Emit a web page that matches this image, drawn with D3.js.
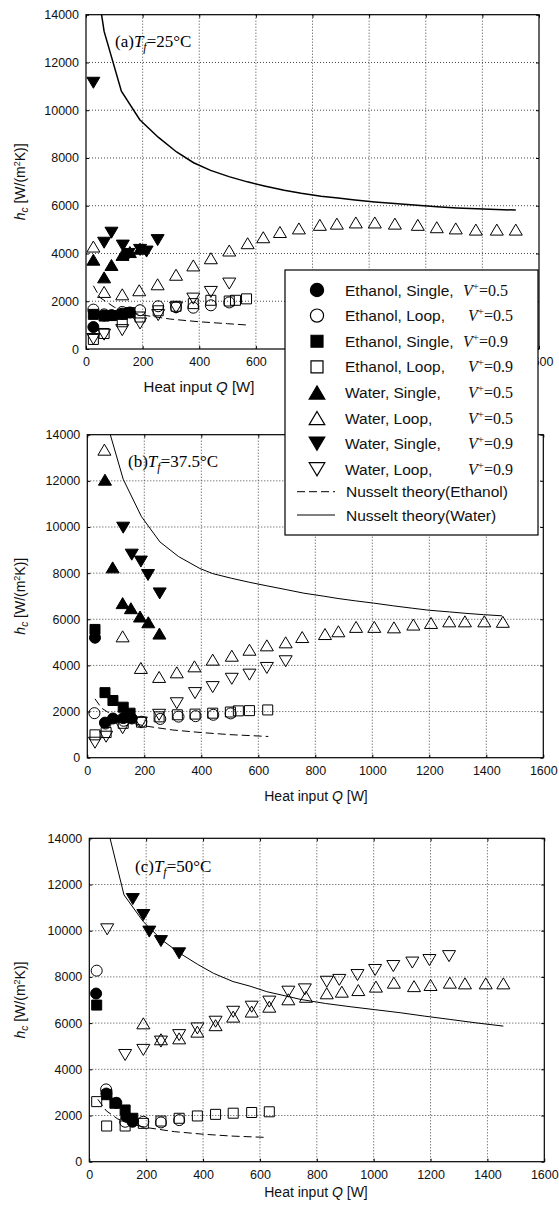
<!DOCTYPE html>
<html>
<head>
<meta charset="utf-8">
<script src="https://cdn.jsdelivr.net/npm/d3@7"></script>
<style>
  body { margin: 0; background: #fff; }
  svg { display: block; font-family: "Liberation Sans", Arial, sans-serif; }
</style>
</head>
<body>
<svg id="fig" width="559" height="1218"></svg>
<script>
/* ------------------------------- data -------------------------------- */
const xTicks = [0, 200, 400, 600, 800, 1000, 1200, 1400, 1600];
const yTicks = [0, 2000, 4000, 6000, 8000, 10000, 12000, 14000];
// panel (a): tick labels hidden behind the legend are not printed
const xTicksHiddenA = [800, 1000, 1200, 1400];

// (a) Tf = 25 C   -- [Q (W), hc (W/m2K)]
const aEthSingle05 = [[26,920],[64,1400],[90,1420],[128,1480],[155,1530]];
const aEthLoop05   = [[26,1650],[64,1450],[128,1550],[191,1625],[255,1790],[318,1750],[379,1730],[441,1830],[506,1950]];
const aEthSingle09 = [[26,1450],[64,1380],[90,1400],[128,1450],[155,1520]];
const aEthLoop09   = [[26,400],[64,650],[128,1140],[191,1340],[255,1600],[318,1790],[379,1900],[441,2040],[506,2010],[528,2040],[567,2100]];
const aWatSingle05 = [[26,3740],[64,3000],[90,3520],[129,3940],[155,4060],[191,4200]];
const aWatLoop05   = [[26,4290],[64,2390],[128,2290],[188,2460],[253,2710],[318,3110],[379,3500],[441,3800],[506,4125],[571,4430],[626,4680],[685,4900],[752,5050],[826,5200],[886,5250],[953,5300],[1020,5300],[1091,5250],[1172,5200],[1239,5100],[1306,5050],[1377,5000],[1451,5000],[1518,5000]];
const aWatSingle09 = [[26,11150],[64,4450],[90,4870],[130,4330],[150,3980],[191,4150],[214,4080],[253,4560]];
const aWatLoop09   = [[26,420],[64,600],[128,790],[191,1070],[255,1420],[318,1730],[379,2110],[441,2390],[506,2740]];
const aNusEthanol  = [[26,2650],[50,2150],[100,1750],[150,1550],[200,1420],[300,1250],[400,1140],[500,1060],[575,1000]];
const aNusWater    = [[26,16260],[64,13300],[125,10800],[190,9600],[255,8870],[320,8250],[380,7800],[440,7480],[505,7220],[570,7000],[630,6830],[700,6650],[760,6520],[830,6400],[890,6320],[950,6240],[1020,6160],[1090,6090],[1170,6020],[1240,5960],[1310,5910],[1380,5870],[1450,5840],[1518,5820]];

// (b) Tf = 37.5 C
const bEthSingle05 = [[27,5200],[62,1520],[90,1700],[126,1720],[156,1700]];
const bEthLoop05   = [[25,1930],[64,1480],[128,1600],[190,1560],[256,1680],[320,1780],[380,1800],[442,1860],[503,1920]];
const bEthSingle09 = [[27,5560],[62,2820],[90,2480],[126,2190],[150,1930]];
const bEthLoop09   = [[27,990],[66,1090],[126,1490],[190,1540],[252,1770],[316,1860],[378,1890],[440,1930],[502,1980],[530,2030],[569,2040],[633,2070]];
const bWatSingle05 = [[62,12050],[89,8250],[124,6700],[153,6480],[185,6120],[214,5870],[253,5380]];
const bWatLoop05   = [[60,13350],[124,5260],[188,3890],[252,3500],[314,3700],[376,3960],[440,4250],[507,4420],[569,4680],[630,4870],[696,5000],[754,5230],[834,5360],[881,5480],[943,5670],[1007,5670],[1076,5650],[1144,5770],[1206,5840],[1270,5910],[1325,5910],[1393,5910],[1458,5890]];
const bWatSingle09 = [[126,9970],[156,8800],[188,8500],[213,7920],[254,7120]];
const bWatLoop09   = [[27,650],[66,910],[124,1280],[188,1520],[252,1860],[314,2360],[378,2800],[440,3060],[507,3420],[569,3600],[630,3890],[696,4180]];
const bNusEthanol  = [[27,2550],[50,2150],[100,1750],[150,1520],[200,1380],[300,1200],[400,1090],[500,1000],[635,920]];
const bNusWater    = [[62,14800],[126,12070],[190,10450],[255,9350],[320,8720],[395,8200],[440,7980],[505,7780],[570,7600],[630,7450],[700,7280],[760,7130],[830,7000],[880,6900],[940,6800],[1005,6700],[1075,6580],[1140,6480],[1200,6390],[1270,6320],[1325,6260],[1390,6200],[1455,6150]];

// (c) Tf = 50 C
const cEthSingle05 = [[24,7280],[60,2950],[95,2550],[130,1950],[152,1730]];
const cEthLoop05   = [[26,8270],[59,3130],[126,1730],[190,1730],[252,1700],[316,1800]];
const cEthSingle09 = [[26,6780],[62,2900],[90,2530],[126,2240],[153,1880]];
const cEthLoop09   = [[26,2600],[61,1545],[126,1545],[190,1660],[252,1760],[316,1880],[380,1980],[444,2050],[506,2100],[571,2130],[633,2160]];
const cWatSingle05 = [];
const cWatLoop05   = [[190,5990],[252,5300],[316,5340],[380,5630],[444,5910],[506,6280],[571,6500],[633,6710],[700,7030],[762,7140],[835,7290],[888,7360],[946,7430],[1008,7580],[1071,7750],[1142,7600],[1200,7650],[1268,7750],[1321,7720],[1394,7720],[1456,7720]];
const cWatSingle09 = [[153,11370],[190,10680],[211,9960],[252,9550],[316,9020]];
const cWatLoop09   = [[63,10060],[126,4620],[190,4840],[252,5200],[316,5480],[380,5770],[444,6060],[506,6490],[571,6710],[633,6930],[700,7360],[758,7460],[835,7790],[879,7870],[943,8080],[1005,8300],[1069,8470],[1136,8620],[1196,8730],[1265,8900]];
const cNusEthanol  = [[30,2700],[60,2200],[100,1850],[150,1620],[200,1480],[300,1300],[400,1190],[500,1110],[625,1050]];
const cNusWater    = [[58,14750],[122,11550],[190,10390],[255,9600],[319,9020],[380,8550],[436,8160],[505,7800],[565,7600],[624,7360],[700,7150],[741,7030],[830,6850],[917,6710],[1005,6580],[1093,6450],[1180,6300],[1268,6160],[1360,6010],[1456,5870]];

const seriesKeys   = ['ethS05','ethL05','ethS09','ethL09','watS05','watL05','watS09','watL09'];
const legendNames  = ['Ethanol, Single,','Ethanol, Loop,','Ethanol, Single,','Ethanol, Loop,','Water, Single,','Water, Loop,','Water, Single,','Water, Loop,'];
const legendVplus  = ['0.5','0.5','0.9','0.9','0.5','0.5','0.9','0.9'];
const lineNames    = ['Nusselt theory(Ethanol)','Nusselt theory(Water)'];
const panelTemps   = ['25','37.5','50'];
const panelLetters = ['a','b','c'];

/* ------------------------------- styles ------------------------------ */
const SYM = {
  ethS05: {shape:'circle',   fill:'#000'},
  ethL05: {shape:'circle',   fill:'none'},
  ethS09: {shape:'square',   fill:'#000'},
  ethL09: {shape:'square',   fill:'none'},
  watS05: {shape:'triUp',    fill:'#000'},
  watL05: {shape:'triUp',    fill:'none'},
  watS09: {shape:'triDown',  fill:'#000'},
  watL09: {shape:'triDown',  fill:'none'}
};

function symPath(shape) {
  const r = 5.5, s = 5, w = 6.5, h = 5.5;
  if (shape === 'circle') return `M${r},0A${r},${r} 0 1,1 ${-r},0A${r},${r} 0 1,1 ${r},0Z`;
  if (shape === 'square') return `M${-s},${-s}H${s}V${s}H${-s}Z`;
  if (shape === 'triUp')  return `M0,${-h}L${w},${h}L${-w},${h}Z`;
  return `M0,${h}L${w},${-h}L${-w},${-h}Z`;
}

const svg = d3.select('#fig');
const defs = svg.append('defs');

/* ------------------------------- panels ------------------------------ */
const panels = [
  {left:86,   right:539,   top:14.7,  bottom:349,    annX:115, annY:47,
   xTitleX:199, xTitleY:392, xTitleSize:15, hideX:xTicksHiddenA,
   series:[aEthSingle05,aEthLoop05,aEthSingle09,aEthLoop09,aWatSingle05,aWatLoop05,aWatSingle09,aWatLoop09],
   nusE:aNusEthanol, nusW:aNusWater, wW:1.5},
  {left:87.3, right:543.3, top:434.7, bottom:757.7,  annX:128, annY:467,
   xTitleX:316, xTitleY:801, xTitleSize:14, hideX:[],
   series:[bEthSingle05,bEthLoop05,bEthSingle09,bEthLoop09,bWatSingle05,bWatLoop05,bWatSingle09,bWatLoop09],
   nusE:bNusEthanol, nusW:bNusWater, wW:1},
  {left:89.3, right:544.3, top:838.3, bottom:1161.7, annX:135, annY:872,
   xTitleX:316, xTitleY:1197, xTitleSize:14, hideX:[],
   series:[cEthSingle05,cEthLoop05,cEthSingle09,cEthLoop09,cWatSingle05,cWatLoop05,cWatSingle09,cWatLoop09],
   nusE:cNusEthanol, nusW:cNusWater, wW:1}
];

panels.forEach((p, i) => {
  const x = d3.scaleLinear().domain([0, 1600]).range([p.left, p.right]);
  const y = d3.scaleLinear().domain([0, 14000]).range([p.bottom, p.top]);
  const g = svg.append('g');

  const clipId = 'clip' + i;
  defs.append('clipPath').attr('id', clipId).append('rect')
    .attr('x', p.left).attr('y', p.top)
    .attr('width', p.right - p.left).attr('height', p.bottom - p.top);

  // dotted grid
  g.append('g').selectAll('line').data(xTicks.slice(1, -1)).join('line')
    .attr('x1', d => x(d)).attr('x2', d => x(d)).attr('y1', p.top).attr('y2', p.bottom)
    .attr('stroke', '#333').attr('stroke-width', 0.9).attr('stroke-dasharray', '1,2');
  g.append('g').selectAll('line').data(yTicks.slice(1, -1)).join('line')
    .attr('y1', d => y(d)).attr('y2', d => y(d)).attr('x1', p.left).attr('x2', p.right)
    .attr('stroke', '#333').attr('stroke-width', 0.9).attr('stroke-dasharray', '1,2');

  // axes
  const fmt = d => p.hideX.includes(d) ? '' : d3.format('d')(d);
  const xa = g.append('g').attr('transform', `translate(0,${p.bottom})`)
    .call(d3.axisBottom(x).tickValues(xTicks).tickFormat(fmt).tickSize(-3).tickSizeOuter(0).tickPadding(8));
  const ya = g.append('g').attr('transform', `translate(${p.left},0)`)
    .call(d3.axisLeft(y).tickValues(yTicks).tickFormat(d3.format('d')).tickSize(-3).tickSizeOuter(0).tickPadding(7));
  g.append('g').attr('transform', `translate(${p.right},0)`)
    .call(d3.axisRight(y).tickValues(yTicks).tickFormat('').tickSize(-3).tickSizeOuter(0));
  g.append('g').attr('transform', `translate(0,${p.top})`)
    .call(d3.axisTop(x).tickValues(xTicks).tickFormat('').tickSize(-3).tickSizeOuter(0));
  g.selectAll('.domain').remove();
  g.selectAll('.tick line').attr('stroke', '#000');
  [xa, ya].forEach(a => a.attr('font-family', '"Liberation Sans", Arial, sans-serif')
    .attr('font-size', 12.5).selectAll('text').attr('fill', '#111'));

  g.append('rect')
    .attr('x', p.left).attr('y', p.top)
    .attr('width', p.right - p.left).attr('height', p.bottom - p.top)
    .attr('fill', 'none').attr('stroke', '#000').attr('stroke-width', 1.2);

  // theory curves
  const line = d3.line().x(d => x(d[0])).y(d => y(d[1]));
  const cg = g.append('g').attr('clip-path', `url(#${clipId})`);
  cg.append('path').datum(p.nusE).attr('d', line)
    .attr('fill', 'none').attr('stroke', '#000').attr('stroke-width', 1).attr('stroke-dasharray', '8,4');
  cg.append('path').datum(p.nusW).attr('d', line)
    .attr('fill', 'none').attr('stroke', '#000').attr('stroke-width', p.wW);

  // measured points
  p.series.forEach((data, k) => {
    const st = SYM[seriesKeys[k]];
    cg.append('g').selectAll('path').data(data).join('path')
      .attr('transform', d => `translate(${x(d[0])},${y(d[1])})`)
      .attr('d', symPath(st.shape))
      .attr('fill', st.fill).attr('stroke', '#000').attr('stroke-width', 1);
  });

  // panel annotation (a)Tf=25°C
  const ann = g.append('text').attr('x', p.annX).attr('y', p.annY)
    .attr('font-family', '"Liberation Serif", "Times New Roman", serif').attr('font-size', 17);
  ann.append('tspan').text(`(${panelLetters[i]})`);
  ann.append('tspan').attr('font-style', 'italic').text('T');
  ann.append('tspan').attr('font-style', 'italic').attr('font-size', 12).attr('dy', 4).text('f');
  ann.append('tspan').attr('dy', -4).text(`=${panelTemps[i]}°C`);

  // axis titles
  const xt = g.append('text').attr('x', p.xTitleX).attr('y', p.xTitleY)
    .attr('text-anchor', 'middle').attr('font-size', p.xTitleSize).attr('fill', '#111');
  xt.append('tspan').text('Heat input  ');
  xt.append('tspan').attr('font-style', 'italic').text('Q');
  xt.append('tspan').text(' [W]');

  const yc = (p.top + p.bottom) / 2;
  const yt = g.append('text').attr('transform', `translate(25,${yc}) rotate(-90)`)
    .attr('text-anchor', 'middle').attr('font-size', 14).attr('fill', '#111');
  yt.append('tspan').attr('font-style', 'italic').text('h');
  yt.append('tspan').attr('font-style', 'italic').attr('font-size', 10).attr('dy', 3).text('c');
  yt.append('tspan').attr('dy', -3).text(' [W/(m');
  yt.append('tspan').attr('font-size', 9).attr('dy', -5).text('2');
  yt.append('tspan').attr('dy', 5).text('K)]');
});

/* ------------------------------- legend ------------------------------ */
const lg = svg.append('g');
lg.append('rect').attr('x', 285).attr('y', 270).attr('width', 253).attr('height', 265)
  .attr('fill', '#fff').attr('stroke', '#000').attr('stroke-width', 1.2);

const rowY = d3.scaleLinear().domain([0, 7]).range([290, 469.3]);
seriesKeys.forEach((key, k) => {
  const cy = rowY(k);
  const st = SYM[key];
  lg.append('path')
    .attr('d', symPath(st.shape)).attr('fill', st.fill).attr('stroke', '#000').attr('stroke-width', 1)
    .attr('transform', `translate(317,${cy}) scale(1.2)`);
  lg.append('text').attr('x', 345).attr('y', cy + 5.5)
    .attr('font-size', 15.5).attr('fill', '#111').text(legendNames[k]);
  const vx = legendNames[k] === 'Ethanol, Single,' ? 463 : 468;
  const vt = lg.append('text').attr('x', vx).attr('y', cy + 5.5)
    .attr('font-family', '"Liberation Serif", "Times New Roman", serif').attr('font-size', 16).attr('fill', '#111');
  vt.append('tspan').attr('font-style', 'italic').text('V');
  vt.append('tspan').attr('font-size', 11).attr('dy', -6).text('+');
  vt.append('tspan').attr('dy', 6).text('=' + legendVplus[k]);
});

const lineRowY = [491.7, 515];
lineNames.forEach((name, k) => {
  const cy = lineRowY[k];
  lg.append('line').attr('x1', 297).attr('x2', 335).attr('y1', cy).attr('y2', cy)
    .attr('stroke', '#000').attr('stroke-width', 1)
    .attr('stroke-dasharray', k === 0 ? '8,4' : null);
  lg.append('text').attr('x', 346).attr('y', cy + 5.5)
    .attr('font-size', 15.5).attr('fill', '#111').text(name);
});
</script>
</body>
</html>
